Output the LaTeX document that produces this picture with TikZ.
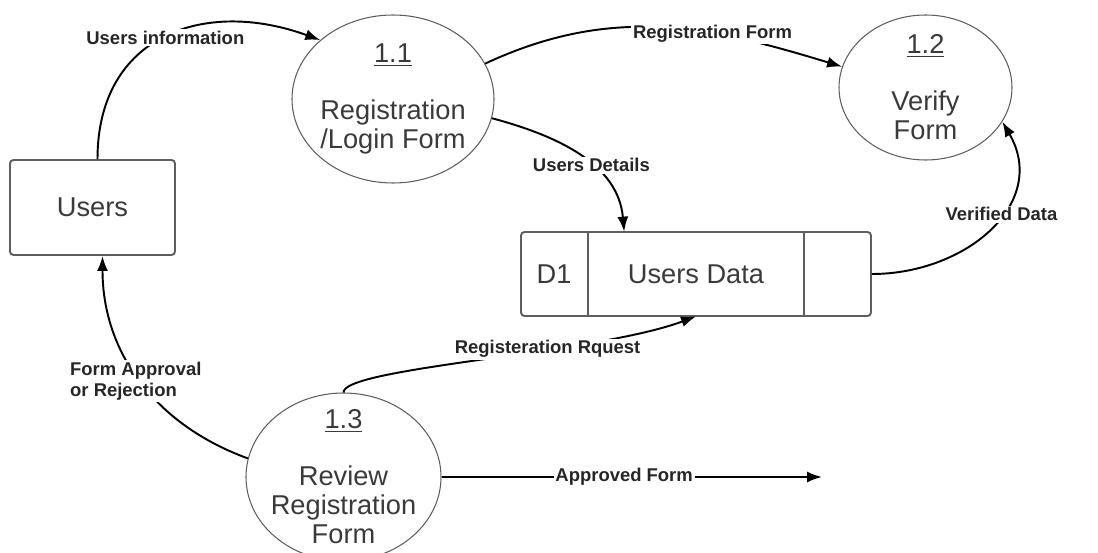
\documentclass[tikz,border=0pt]{standalone}
\usepackage{fontspec}
\setmainfont{Liberation Sans}
\usepackage{tikz}
\usetikzlibrary{shapes.geometric,arrows.meta,calc}
\definecolor{edgegray}{HTML}{5E5E5E}
\definecolor{textgray}{HTML}{3A3A3A}

\begin{document}
\begin{tikzpicture}[
  proc/.style={ellipse,draw=edgegray,line width=0.6pt,inner sep=-0.35cm,align=center,text=textgray,font=\fontsize{15.5}{16.5}\selectfont},
  ent/.style={draw=edgegray,line width=1.1pt,rounded corners=2pt,text=textgray,font=\fontsize{15.5}{16.5}\selectfont},
  flow/.style={line width=1.1pt,-{Latex[length=3mm,width=2.2mm]}},
  lbl/.style={fill=white,inner sep=1pt,text=black!85,font=\bfseries\fontsize{10.5}{12}\selectfont}]
\useasboundingbox (0,0) rectangle (21.96,-11.06);
\node[ent,minimum width=3.3cm,minimum height=1.9cm] (users) at (1.85,-4.15) {Users};
\node[proc,minimum width=4.04cm,minimum height=3.36cm] (p11) at (7.86,-1.98) {\underline{1.1}\\[16pt]Registration\\/Login Form};
\node[proc,minimum width=3.46cm,minimum height=2.9cm] (p12) at (18.51,-1.75) {\underline{1.2}\\[16pt]Verify\\Form};
\node[proc,minimum width=3.9cm,minimum height=3.36cm] (p13) at (6.87,-9.54) {\underline{1.3}\\[16pt]Review\\Registration\\Form};
\node[ent,minimum width=7cm,minimum height=1.68cm] (store) at (13.92,-5.48) {};
\node[minimum width=4.3cm,minimum height=1.68cm,text=textgray,font=\fontsize{15.5}{16.5}\selectfont] (ud) at (store) {Users Data};
\node[text=textgray,font=\fontsize{15.5}{16.5}\selectfont] (d1) at ($(store.west)!0.5!(ud.west)$) {D1};
\draw[edgegray,line width=1.1pt] (ud.north west) -- (ud.south west);
\draw[edgegray,line width=1.1pt] (ud.north east) -- (ud.south east);
\coordinate (out) at (16.44,-9.54);
\draw[flow] ([xshift=0.1cm]users.north) to[out=90,in=160,looseness=1.25] node[lbl,pos=0.5] {Users information} (p11.141);
\draw[flow] (p11.21) to[out=25,in=163] node[lbl,pos=0.65] {Registration Form} (p12.166);
\draw[flow] (p11.-11) to[out=-15,in=95] node[lbl,pos=0.58] {Users Details} ([xshift=0.72cm]ud.north west);
\draw[flow] (store.east) to[out=0,in=-60,looseness=1.2] node[lbl,pos=0.58] {Verified Data} (p12.-24);
\draw[flow] (p13.north) .. controls +(0,0.5) and +(-2,-0.75) .. node[lbl,pos=0.64] {Registeration Rquest} (ud.south);
\draw[flow] (p13.169) to[out=160,in=-90] node[lbl,pos=0.5,align=left,xshift=-0.1cm] {Form Approval\\or Rejection} ([xshift=0.2cm]users.south);
\draw[flow] (p13.east) -- node[lbl,pos=0.48] {Approved Form} (out);
\end{tikzpicture}
\end{document}
